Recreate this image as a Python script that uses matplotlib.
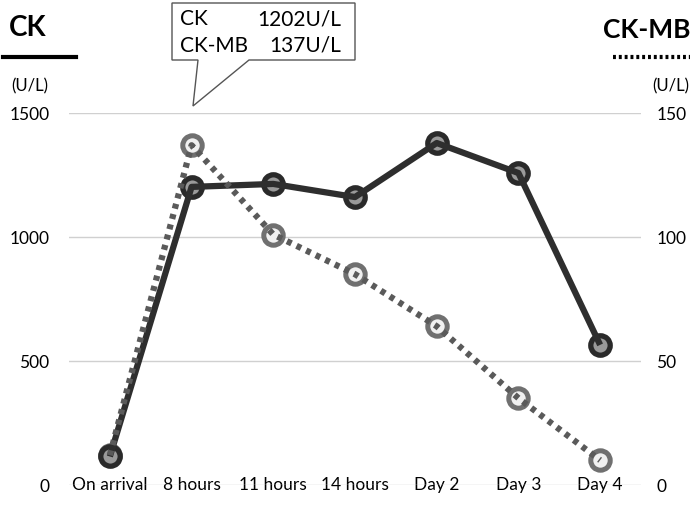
import matplotlib
matplotlib.use("Agg")
import matplotlib.pyplot as plt
from matplotlib.patches import Polygon
from matplotlib.lines import Line2D

categories = ["On arrival", "8 hours", "11 hours", "14 hours", "Day 2", "Day 3", "Day 4"]
ck_values = [115, 1202, 1214, 1161, 1379, 1258, 565]
ckmb_values = [12, 137, 101, 85, 64, 35, 10]
left_ticks = [0, 500, 1000, 1500]
right_ticks = [0, 50, 100, 150]

plt.rcParams['font.family'] = ['Lato', 'DejaVu Sans']

W, H = 694, 520
fig = plt.figure(figsize=(W / 100, H / 100), dpi=100)
left = 69 / W
right = 641 / W
bottom = (H - 485) / H
top = (H - 113) / H
ax = fig.add_axes([left, bottom, right - left, top - bottom])
ax2 = ax.twinx()

x = list(range(len(categories)))
ax.set_xlim(-0.5, len(categories) - 0.5)
ax.set_ylim(0, 1500)
ax2.set_ylim(0, 150)

for a in (ax, ax2):
    for s in a.spines.values():
        s.set_visible(False)

ax.set_yticks(left_ticks)
ax.set_yticklabels([str(v) for v in left_ticks], fontsize=12.5)
ax2.set_yticks(right_ticks)
ax2.set_yticklabels([str(v) for v in right_ticks], fontsize=12.5)
ax.tick_params(axis='y', length=0, pad=14)
ax2.tick_params(axis='y', length=0, pad=11)
for lbl in ax2.get_yticklabels():
    lbl.set_horizontalalignment('left')
ax.yaxis.grid(True, color='#d0d0d0', linewidth=1)
ax.set_axisbelow(True)
ax.set_xticks(x)
ax.set_xticklabels(categories, fontsize=12.5)
ax.tick_params(axis='x', length=0, pad=-6)

# Markers: CK-MB below, CK above; lines on top
ax.set_zorder(2)
ax2.set_zorder(3)
ax.patch.set_visible(False)
ax2.patch.set_visible(False)

ax2.plot(x, ckmb_values, linestyle='none', marker='o', markersize=14,
         markerfacecolor='#f0f0f0', markeredgecolor='#707070', markeredgewidth=3.6, zorder=1)
# CK markers drawn in ax2 coordinates via transform so they sit above CK-MB markers
ax2.plot(x, [v / 10 for v in ck_values], linestyle='none', marker='o', markersize=14,
         markerfacecolor='#9a9a9a', markeredgecolor='#2a2a2a', markeredgewidth=3.8, zorder=2)
ax2.plot(x, [v / 10 for v in ck_values], color='#2e2e2e', linewidth=4.5,
         solid_capstyle='butt', zorder=3)
ax2.plot(x, ckmb_values, color='#5a5a5a', linewidth=4.5, linestyle=(0, (0.8, 0.9)), zorder=4)

# header texts
fig.text(9 / W, 1 - 28 / H, "CK", fontsize=20, fontweight='bold', ha='left', va='center')
fig.add_artist(Line2D([3 / W, 76 / W], [1 - 57 / H, 1 - 57 / H], color='black', linewidth=3))
fig.text(11 / W, 1 - 86 / H, "(U/L)", fontsize=12, ha='left', va='center')

fig.text(690 / W, 1 - 30 / H, "CK-MB", fontsize=19, fontweight='bold', ha='right', va='center')
fig.add_artist(Line2D([613 / W, 690 / W], [1 - 57 / H, 1 - 57 / H], color='black', linewidth=3,
                      linestyle=(0, (0.7, 0.7))))
fig.text(689 / W, 1 - 86 / H, "(U/L)", fontsize=12, ha='right', va='center')

# callout
bx0, bx1, by0, by1 = 172, 355, 3, 60
tip = (193, 106)
poly = Polygon([[bx0 / W, 1 - by0 / H], [bx1 / W, 1 - by0 / H], [bx1 / W, 1 - by1 / H],
                [249 / W, 1 - by1 / H], [tip[0] / W, 1 - tip[1] / H], [198 / W, 1 - by1 / H],
                [bx0 / W, 1 - by1 / H]], closed=True, facecolor='white', edgecolor='#555555',
               linewidth=1, transform=fig.transFigure)
fig.add_artist(poly)
fig.text(180 / W, 1 - 19 / H, "CK", fontsize=15, ha='left', va='center')
fig.text(341 / W, 1 - 19 / H, "1202U/L", fontsize=15, ha='right', va='center')
fig.text(180 / W, 1 - 46 / H, "CK-MB", fontsize=15, ha='left', va='center')
fig.text(341 / W, 1 - 46 / H, "137U/L", fontsize=15, ha='right', va='center')

fig.savefig("out.png", dpi=100)
